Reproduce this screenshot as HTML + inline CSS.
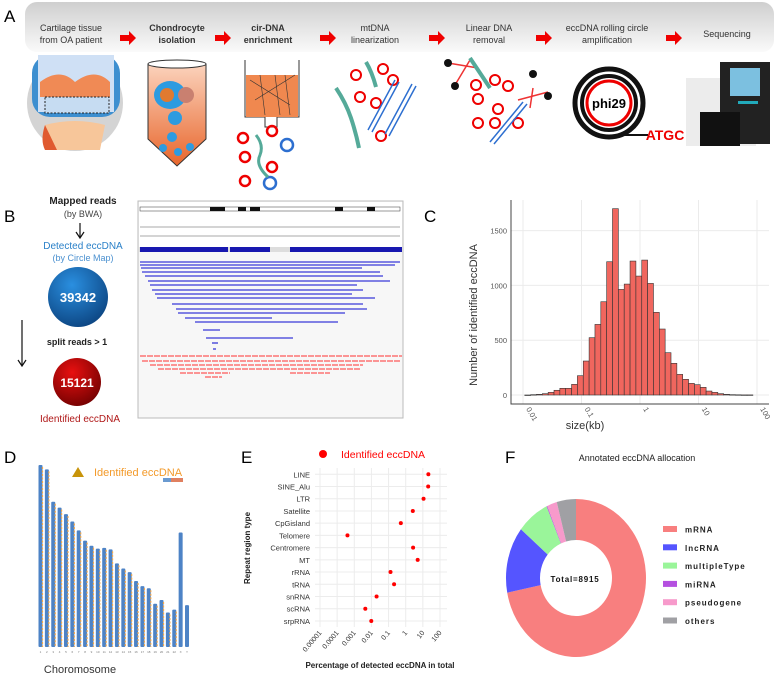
<!DOCTYPE html>
<html><head><meta charset="utf-8"><style>
body{margin:0;background:#fff;}
svg{display:block;font-family:"Liberation Sans",sans-serif;}
</style></head><body>
<svg id="fig" width="776" height="675" viewBox="0 0 776 675">
<defs>
<linearGradient id="hdr" x1="0" y1="0" x2="0" y2="1"><stop offset="0" stop-color="#cfcfcf"/><stop offset="1" stop-color="#fafafa"/></linearGradient>
<radialGradient id="bc" cx="0.4" cy="0.3" r="0.8"><stop offset="0" stop-color="#2a8fe0"/><stop offset="1" stop-color="#0a3f7a"/></radialGradient>
<radialGradient id="rc" cx="0.4" cy="0.3" r="0.8"><stop offset="0" stop-color="#e81010"/><stop offset="1" stop-color="#6a0000"/></radialGradient>
<linearGradient id="tube" x1="0" y1="0" x2="0" y2="1"><stop offset="0" stop-color="#fbd3bd"/><stop offset="1" stop-color="#e8662c"/></linearGradient>
</defs>

<!-- Panel A -->
<g>
<text x="4" y="22" font-size="17">A</text>
<rect x="25" y="2" width="749" height="50" rx="12" fill="url(#hdr)"/>
<g>
<ellipse cx="75" cy="103" rx="48" ry="48" fill="#d4d4d4"/>
<rect x="32" y="55" width="88" height="62" rx="18" fill="#3d8fd0"/>
<rect x="38" y="55" width="76" height="57" fill="#cfe0f5"/>
<path d="M40,82 q20,-15 35,0 q20,-15 35,0 v15 h-70z" fill="#f08a55"/>
<rect x="45" y="97" width="64" height="16" fill="#c6dcf2" stroke="#222" stroke-dasharray="2,1.5"/>
<path d="M45,125 q30,-8 60,0 l-5,25 h-50z" fill="#f7c69a"/>
<path d="M45,125 q-5,15 0,25 h12 z" fill="#e05a30"/>
</g>
<g font-size="9" text-anchor="middle" fill="#333">
<text x="71" y="31"><tspan x="71">Cartilage tissue</tspan><tspan x="71" dy="12">from OA patient</tspan></text>
<text x="177" y="31" font-weight="bold"><tspan x="177">Chondrocyte</tspan><tspan x="177" dy="12">isolation</tspan></text>
<text x="268" y="31" font-weight="bold"><tspan x="268">cir-DNA</tspan><tspan x="268" dy="12">enrichment</tspan></text>
<text x="375" y="31"><tspan x="375">mtDNA</tspan><tspan x="375" dy="12">linearization</tspan></text>
<text x="489" y="31"><tspan x="489">Linear DNA</tspan><tspan x="489" dy="12">removal</tspan></text>
<text x="607" y="31"><tspan x="607">eccDNA rolling circle</tspan><tspan x="607" dy="12">amplification</tspan></text>
<text x="727" y="37">Sequencing</text>
</g>
<g fill="#f00000">
<path d="M120,35h9v-4l7,7l-7,7v-4h-9z"/><path d="M215,35h9v-4l7,7l-7,7v-4h-9z"/><path d="M320,35h9v-4l7,7l-7,7v-4h-9z"/>
<path d="M429,35h9v-4l7,7l-7,7v-4h-9z"/><path d="M536,35h9v-4l7,7l-7,7v-4h-9z"/><path d="M666,35h9v-4l7,7l-7,7v-4h-9z"/>
</g>
<g>
<path d="M148,64 h58 v75 l-29,27 l-29,-27z" fill="url(#tube)" stroke="#333"/>
<ellipse cx="177" cy="64" rx="29" ry="4" fill="#fff" stroke="#333"/>
<ellipse cx="170" cy="95" rx="16" ry="14" fill="#2d9be0"/><circle cx="167" cy="95" r="7" fill="#e07a30"/><circle cx="186" cy="95" r="8" fill="#c98070"/>
<circle cx="175" cy="118" r="7" fill="#2d9be0"/><circle cx="172" cy="137" r="5" fill="#2d9be0"/><circle cx="163" cy="148" r="4" fill="#2d9be0"/><circle cx="178" cy="152" r="4" fill="#2d9be0"/><circle cx="190" cy="147" r="4" fill="#2d9be0"/>
</g>
<g>
<path d="M245,60 v57 h20 v10 h12 v-10 h22 v-57" fill="none" stroke="#333"/>
<rect x="246" y="75" width="52" height="42" fill="#f0884f"/>
<path d="M250,80 l40,25 M255,100 l40,-25 M260,75 l5,40 M275,75 l5,40 M285,75 l5,40" stroke="#333" stroke-width="0.6"/>
<g fill="none" stroke-width="2.5"><circle cx="243" cy="138" r="5" stroke="#e00"/><circle cx="272" cy="131" r="5" stroke="#e00"/><circle cx="245" cy="157" r="5" stroke="#e00"/><circle cx="272" cy="167" r="5" stroke="#e00"/><circle cx="245" cy="181" r="5" stroke="#e00"/><circle cx="287" cy="145" r="6" stroke="#2d6fd0"/><circle cx="270" cy="183" r="6" stroke="#2d6fd0"/></g>
<path d="M256,135 q8,10 4,20 q-5,10 8,22" stroke="#5a9" stroke-width="3" fill="none"/>
</g>
<g fill="none">
<g stroke="#e00" stroke-width="2"><circle cx="356" cy="75" r="5"/><circle cx="383" cy="69" r="5"/><circle cx="393" cy="80" r="5"/><circle cx="360" cy="97" r="5"/><circle cx="376" cy="103" r="5"/><circle cx="381" cy="136" r="5"/></g>
<path d="M336,88 q10,15 15,30 q5,15 8,30" stroke="#5a9" stroke-width="4"/><path d="M366,62 q6,10 10,25" stroke="#5a9" stroke-width="4"/>
<path d="M368,130 l27,-50 M372,132 l27,-50 M385,134 l27,-50 M389,136 l27,-50" stroke="#2d6fd0" stroke-width="1.5"/>
</g>
<g fill="none">
<g stroke="#e00" stroke-width="2"><circle cx="476" cy="85" r="5"/><circle cx="495" cy="80" r="5"/><circle cx="508" cy="86" r="5"/><circle cx="478" cy="99" r="5"/><circle cx="498" cy="109" r="5"/><circle cx="478" cy="123" r="5"/><circle cx="495" cy="123" r="5"/><circle cx="518" cy="123" r="5"/></g>
<path d="M448,63 l30,5 M455,85 l15,-25 M518,100 l30,-8 M530,108 l3,-20" stroke="#e33" stroke-width="1.5"/>
<g fill="#111" stroke="none"><circle cx="448" cy="63" r="4"/><circle cx="455" cy="86" r="4"/><circle cx="533" cy="74" r="4"/><circle cx="548" cy="96" r="4"/></g>
<path d="M470,58 q10,15 20,30" stroke="#5a9" stroke-width="4"/>
<path d="M490,142 l33,-40 M494,144 l33,-40" stroke="#2d6fd0" stroke-width="1.5"/>
</g>
<g>
<circle cx="609" cy="103" r="34" fill="none" stroke="#111" stroke-width="5"/>
<circle cx="609" cy="103" r="27" fill="none" stroke="#111" stroke-width="4"/>
<circle cx="609" cy="103" r="22" fill="none" stroke="#e00" stroke-width="3"/>
<path d="M620,135 h28" stroke="#111" stroke-width="2"/>
<text x="609" y="108" font-size="13" font-weight="bold" text-anchor="middle">phi29</text>
<text x="665" y="140" font-size="14" font-weight="bold" fill="#e00" text-anchor="middle">ATGC</text>
</g>
<g>
<rect x="686" y="78" width="70" height="68" fill="#ececec"/>
<path d="M720,62 h50 v82 h-50z" fill="#222"/>
<rect x="730" y="68" width="30" height="28" fill="#7cc0e0"/>
<rect x="738" y="101" width="20" height="3" fill="#2ab"/>
<rect x="700" y="112" width="40" height="34" fill="#111"/>
</g>
</g>

<!-- Panel B -->
<g>
<text x="4" y="222" font-size="17">B</text>
<text x="83" y="204" font-size="10" font-weight="bold" text-anchor="middle" fill="#222">Mapped reads</text>
<text x="83" y="217" font-size="9" text-anchor="middle" fill="#444">(by BWA)</text>
<path d="M80,223 v14 M76,232 l4,6 l4,-6" stroke="#111" fill="none" stroke-width="1.2"/>
<text x="83" y="249" font-size="10" text-anchor="middle" fill="#2a80c8">Detected eccDNA</text>
<text x="83" y="261" font-size="9" text-anchor="middle" fill="#4a90d0">(by Circle Map)</text>
<circle cx="78" cy="297" r="30" fill="url(#bc)"/>
<text x="78" y="302" font-size="13" font-weight="bold" fill="#fff" text-anchor="middle">39342</text>
<path d="M22,320 v45 M18,360 l4,6 l4,-6" stroke="#111" fill="none" stroke-width="1.2"/>
<text x="77" y="345" font-size="9" font-weight="bold" text-anchor="middle" fill="#222">split reads &gt; 1</text>
<circle cx="77" cy="382" r="24" fill="url(#rc)"/>
<text x="77" y="387" font-size="12" font-weight="bold" fill="#fff" text-anchor="middle">15121</text>
<text x="80" y="422" font-size="10" text-anchor="middle" fill="#b01818">Identified eccDNA</text>
<g>
<rect x="138" y="201" width="265" height="217" fill="#f7f7f7" stroke="#bbb"/>
<rect x="139" y="202" width="263" height="46" fill="#fff"/>
<rect x="140" y="207" width="260" height="4" fill="#fff" stroke="#333" stroke-width="0.5"/>
<g fill="#111"><rect x="210" y="207" width="15" height="4"/><rect x="238" y="207" width="8" height="4"/><rect x="335" y="207" width="8" height="4"/><rect x="367" y="207" width="8" height="4"/><rect x="250" y="207" width="10" height="4"/></g>
<path d="M140,227 h260 M140,236 h260" stroke="#555" stroke-width="0.5"/>
<rect x="139" y="247" width="263" height="5" fill="#ddd"/>
<rect x="140" y="247" width="88" height="5" fill="#1818b0"/><rect x="290" y="247" width="112" height="5" fill="#1818b0"/><rect x="230" y="247" width="40" height="5" fill="#1818b0"/>
<g stroke="#3a3ad8" stroke-width="1.3" id="igvblue"></g>
<g stroke="#ff3030" stroke-width="1" id="igvred"></g>
</g>
</g>

<!-- Panel C -->
<g id="panelC">
<text x="424" y="222" font-size="17">C</text>
<text transform="translate(477,315) rotate(-90)" font-size="11" text-anchor="middle" fill="#333">Number of identified eccDNA</text>
<text x="585" y="429" font-size="11" text-anchor="middle" fill="#333">size(kb)</text>
</g>

<!-- Panel D -->
<g id="panelD">
<text x="4" y="463" font-size="17">D</text>
<path d="M72,477 l6,-10 l6,10z" fill="#c8940a"/>
<text x="94" y="476" font-size="11" fill="#f39a2a">Identified eccDNA</text>
<rect x="163" y="478" width="20" height="4" fill="#e08060"/>
<rect x="163" y="478" width="8" height="4" fill="#6a9ad0"/>
<text x="80" y="673" font-size="11" text-anchor="middle" fill="#333">Choromosome</text>
</g>

<!-- Panel E -->
<g id="panelE">
<text x="241" y="463" font-size="17">E</text>
<circle cx="323" cy="454" r="4" fill="#f00"/>
<text x="341" y="458" font-size="10.5" fill="#f00">Identified eccDNA</text>
<text transform="translate(250,548) rotate(-90)" font-size="8" font-weight="bold" text-anchor="middle" fill="#222">Repeat region type</text>
<text x="380" y="668" font-size="8" font-weight="bold" text-anchor="middle" fill="#222">Percentage of detected eccDNA in total</text>
</g>

<!-- Panel F -->
<g id="panelF">
<text x="505" y="463" font-size="17">F</text>
<text x="637" y="461" font-size="9" text-anchor="middle" fill="#222">Annotated eccDNA allocation</text>
<text x="575" y="582" font-size="8" font-weight="bold" letter-spacing="0.8" text-anchor="middle" fill="#111">Total=8915</text>
</g>
</svg>
<script>
// ---- Panel C data ----
const histCounts = [0,3,6,12,24,43,61,61,97,176,310,523,644,851,1216,1700,963,1012,1222,1085,1231,1018,754,602,386,289,188,143,106,94,70,36,24,12,6,3,2,1,1];
const histStartLog = -1.97;
const histBinWidthLog = 0.1;
const cYTicks = [0,500,1000,1500];
const cXTicks = [0.01,0.1,1,10,100];
const cXTickLabels = ["0.01","0.1","1","10","100"];
// ---- Panel E data ----
const repeatTypes = ["LINE","SINE_Alu","LTR","Satellite","CpGisland","Telomere","Centromere","MT","rRNA","tRNA","snRNA","scRNA","srpRNA"];
const repeatPct = [21,20.5,11,2.6,0.52,0.0004,2.7,5,0.13,0.21,0.02,0.0044,0.0098];
const eXTicks = [0.00001,0.0001,0.001,0.01,0.1,1,10,100];
const eXTickLabels = ["0.00001","0.0001","0.001","0.01","0.1","1","10","100"];
// ---- Panel F data ----
const annoCats = ["mRNA","lncRNA","multipleType","miRNA","pseudogene","others"];
const annoCounts = [6420,1210,670,15,205,395];
// ---- Panel D data (chromosome relative lengths) ----
const chrNames = ["1","2","3","4","5","6","7","8","9","10","11","12","13","14","15","16","17","18","19","20","21","22","X","Y"];
const chrLen = [248,242,198,190,181,171,159,145,138,134,135,133,114,107,102,90,83,80,59,64,47,51,156,57];

const NS="http://www.w3.org/2000/svg";
function mk(tag,attrs,parent){const e=document.createElementNS(NS,tag);for(const k in attrs)e.setAttribute(k,attrs[k]);parent.appendChild(e);return e;}

// Panel C
(function(){
  const g=document.getElementById('panelC');
  const x=l=>523+(l+2)*58.5;
  const y=v=>395-v*0.1096;
  mk('rect',{x:511,y:200,width:258,height:204,fill:'#fff'},g);
  for(const t of cYTicks){const l=mk('line',{x1:511,x2:769,y1:y(t),y2:y(t),stroke:'#ebebeb'},g);
    
    
    const tx=mk('text',{x:507,y:y(t)+3,'font-size':7.5,'text-anchor':'end',fill:'#555'},g);tx.textContent=t;
    
    }
  cXTicks.forEach((t,i)=>{const xx=x(Math.log10(t));
    const l=mk('line',{x1:xx,x2:xx,y1:200,y2:404,stroke:'#ebebeb'},g);
    
    
    const tx=mk('text',{transform:`translate(${xx+3},${409}) rotate(60)`,'font-size':7.5,fill:'#555'},g);tx.textContent=cXTickLabels[i];
    
    });
  histCounts.forEach((c,i)=>{const x0=x(histStartLog+i*histBinWidthLog),x1=x(histStartLog+(i+1)*histBinWidthLog);
    const r=mk('rect',{x:x0,y:y(c),width:x1-x0,height:Math.max(0.5,y(0)-y(c)),fill:'#f0665e',stroke:'#333','stroke-width':0.6},g);
    
    });
  mk('path',{d:'M511,200 V404 H769',fill:'none',stroke:'#444','stroke-width':1},g);
})();

// Panel E
(function(){
  const g=document.getElementById('panelE');
  const x=v=>320+(Math.log10(v)+5)*17.14;
  const y=i=>474.3+i*12.22;
  repeatTypes.forEach((n,i)=>{const l=mk('line',{x1:315,x2:447,y1:y(i),y2:y(i),stroke:'#ececec'},g);
    
    
    const t=mk('text',{x:310,y:y(i)+3,'font-size':7.5,'text-anchor':'end',fill:'#333'},g);t.textContent=n;
    
    });
  eXTicks.forEach((v,i)=>{const xx=x(v);const l=mk('line',{x1:xx,x2:xx,y1:468,y2:627,stroke:'#ececec'},g);
    
    
    const t=mk('text',{transform:`translate(${xx+2},${633}) rotate(-50)`,'font-size':7,'text-anchor':'end',fill:'#333'},g);t.textContent=eXTickLabels[i];
    
    });
  repeatPct.forEach((v,i)=>{const c=mk('circle',{cx:x(v),cy:y(i),r:2,fill:'#f00'},g);
    
    });
})();

// Panel F
(function(){
  const g=document.getElementById('panelF');
  const cols=['#f87f7f','#5555ff','#9af59a','#b550e0','#f79acb','#a0a0a4'];
  const total=annoCounts.reduce((a,b)=>a+b,0);
  const cx=576,cy=578,rx=70,ry=79,ix=36,iy=38;
  let a=0;
  const pt=(ang,rX,rY)=>[cx+rX*Math.sin(ang),cy-rY*Math.cos(ang)];
  annoCounts.forEach((c,i)=>{const a0=a,a1=a+c/total*2*Math.PI;a=a1;const lg=(a1-a0)>Math.PI?1:0;
    const [x0,y0]=pt(a0,rx,ry),[x1,y1]=pt(a1,rx,ry),[x2,y2]=pt(a1,ix,iy),[x3,y3]=pt(a0,ix,iy);
    const p=mk('path',{d:`M${x0},${y0}A${rx},${ry} 0 ${lg} 1 ${x1},${y1}L${x2},${y2}A${ix},${iy} 0 ${lg} 0 ${x3},${y3}Z`,fill:cols[i]},g);
    
    
    const ly=529+i*18.3;
    const r=mk('rect',{x:663,y:ly-3,width:14,height:6,fill:cols[i]},g);
    
    
    const t=mk('text',{x:685,y:ly+3.5,'font-size':8,'font-weight':'bold','letter-spacing':'1',fill:'#222'},g);t.textContent=annoCats[i];
    
    });
})();

// Panel D
(function(){
  const g=document.getElementById('panelD');
  const bottom=647, scale=(647-465)/248;
  chrLen.forEach((L,i)=>{const xx=40.5+i*6.37;const top=bottom-L*scale;
    const r=mk('rect',{x:xx-2,y:top,width:4,height:bottom-top,rx:1,fill:'#4d83c6'},g);
    
    
    if(i<22){const o=mk('line',{x1:xx+2,x2:xx+2,y1:top+2,y2:bottom,stroke:'#f5a84a','stroke-width':1.2,'stroke-dasharray':'2,1.5'},g);
      
      }
    const t=mk('text',{x:xx,y:653,'font-size':3,'text-anchor':'middle',fill:'#777'},g);t.textContent=chrNames[i];
    
    });
})();

// IGV reads
(function(){
  const b=document.getElementById('igvblue'), r=document.getElementById('igvred');
  const blue=[[140,400,262],[140,395,265],[141,362,268],[142,380,272],[145,383,276],[148,390,281],[150,357,285],[152,363,290],[155,352,294],[157,375,298],[172,363,304],[176,367,309],[178,345,313],[185,272,318],[195,338,322],[203,220,330],[206,293,338],[212,218,343],[213,216,349]];
  blue.forEach(a=>{const l=mk('line',{x1:a[0],x2:a[1],y1:a[2],y2:a[2]},b);
    
    });
  const red=[[140,402,356],[142,400,361],[150,363,365],[158,360,369],[180,230,373],[290,330,373],[205,222,377]];
  red.forEach(a=>{const l=mk('line',{x1:a[0],x2:a[1],y1:a[2],y2:a[2],'stroke-dasharray':'6,1'},r);
    
    });
})();
</script>
</body></html>
